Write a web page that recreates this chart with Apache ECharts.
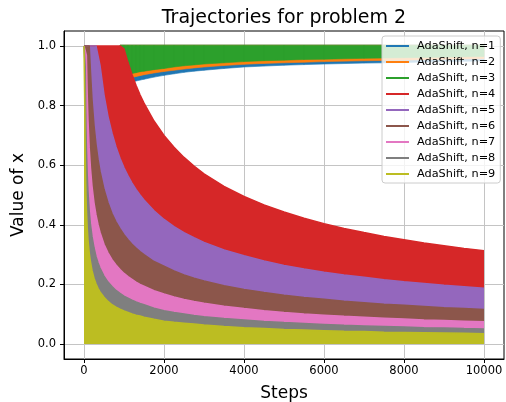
<!DOCTYPE html>
<html>
<head>
<meta charset="utf-8">
<script src="https://cdn.jsdelivr.net/npm/echarts@6/dist/echarts.min.js"></script>
<style>html,body{margin:0;padding:0;background:#fff}#c{width:506px;height:402px}</style>
</head>
<body>
<div id="c"></div>
<script>
// ---- data ----
const seriesNames = ['AdaShift, n=1','AdaShift, n=2','AdaShift, n=3','AdaShift, n=4','AdaShift, n=5','AdaShift, n=6','AdaShift, n=7','AdaShift, n=8','AdaShift, n=9'];
const xTicks = [0, 2000, 4000, 6000, 8000, 10000];
const yTicks = [0.0, 0.2, 0.4, 0.6, 0.8, 1.0];

// n=1..3 oscillate between a lower envelope and 1.0
const stepsTop = [900, 1000, 1100, 1200, 1300, 1400, 1500, 1750, 2000, 2250, 2500, 2750, 3000, 3500, 4000, 4500, 5000, 5500, 6000, 7000, 8000, 9000, 10000];
const upperTop = 1.0;
const lowN1 = [0.860, 0.865, 0.872, 0.880, 0.884, 0.887, 0.890, 0.897, 0.903, 0.908, 0.913, 0.917, 0.920, 0.926, 0.931, 0.934, 0.937, 0.939, 0.941, 0.944, 0.946, 0.949, 0.951];
const lowN2 = [0.875, 0.880, 0.888, 0.896, 0.899, 0.902, 0.905, 0.911, 0.916, 0.920, 0.924, 0.928, 0.931, 0.936, 0.940, 0.943, 0.945, 0.947, 0.949, 0.952, 0.954, 0.957, 0.959];
const lowN3 = [0.890, 0.895, 0.902, 0.909, 0.912, 0.915, 0.917, 0.922, 0.926, 0.931, 0.935, 0.938, 0.941, 0.945, 0.949, 0.952, 0.954, 0.956, 0.957, 0.960, 0.962, 0.964, 0.966];

// n=4..9 oscillate between 0 and an upper envelope
const steps = [0, 10, 20, 30, 40, 50, 60, 80, 100, 130, 160, 200, 250, 300, 350, 400, 500, 600, 700, 800, 900, 1000, 1100, 1200, 1300, 1400, 1500, 1750, 2000, 2250, 2500, 2750, 3000, 3500, 4000, 4500, 5000, 5500, 6000, 6500, 7000, 7500, 8000, 8500, 9000, 9500, 10000];
const upN4 = [1,1,1,1,1,1,1,1,1,1,1,1,1,1,1,1,1,1,1,1,1, 0.990, 0.944, 0.904, 0.868, 0.836, 0.808, 0.748, 0.700, 0.660, 0.626, 0.597, 0.571, 0.529, 0.495, 0.467, 0.443, 0.422, 0.404, 0.388, 0.374, 0.361, 0.350, 0.339, 0.330, 0.321, 0.313];
const upN5 = [1,1,1,1,1,1,1,1,1,1,1,1,1,1,1, 0.935, 0.836, 0.763, 0.707, 0.661, 0.623, 0.591, 0.564, 0.540, 0.519, 0.500, 0.483, 0.447, 0.418, 0.394, 0.374, 0.357, 0.341, 0.316, 0.296, 0.279, 0.264, 0.252, 0.241, 0.232, 0.224, 0.216, 0.209, 0.203, 0.197, 0.192, 0.187];
const upN6 = [1,1,1,1,1,1,1,1,1,1, 0.917, 0.820, 0.734, 0.670, 0.620, 0.580, 0.519, 0.474, 0.438, 0.410, 0.387, 0.367, 0.350, 0.335, 0.322, 0.310, 0.300, 0.277, 0.261, 0.245, 0.232, 0.221, 0.212, 0.196, 0.183, 0.173, 0.164, 0.156, 0.150, 0.144, 0.139, 0.134, 0.130, 0.126, 0.122, 0.119, 0.116];
const upN7 = [1,1,1,1,1,1, 0.968, 0.839, 0.750, 0.658, 0.593, 0.530, 0.474, 0.433, 0.401, 0.375, 0.335, 0.306, 0.283, 0.265, 0.250, 0.237, 0.226, 0.217, 0.208, 0.200, 0.194, 0.179, 0.168, 0.158, 0.150, 0.143, 0.137, 0.127, 0.119, 0.112, 0.106, 0.101, 0.097, 0.093, 0.090, 0.087, 0.084, 0.081, 0.079, 0.077, 0.075];
const upN8 = [1,1,1, 0.931, 0.806, 0.721, 0.658, 0.570, 0.510, 0.447, 0.403, 0.361, 0.323, 0.294, 0.273, 0.255, 0.228, 0.208, 0.193, 0.180, 0.170, 0.161, 0.154, 0.147, 0.141, 0.136, 0.132, 0.120, 0.112, 0.106, 0.101, 0.096, 0.092, 0.086, 0.081, 0.076, 0.072, 0.069, 0.066, 0.063, 0.061, 0.059, 0.057, 0.055, 0.054, 0.052, 0.051];
const upN9 = [1,1, 0.783, 0.639, 0.553, 0.495, 0.452, 0.391, 0.350, 0.307, 0.277, 0.247, 0.221, 0.202, 0.187, 0.175, 0.157, 0.143, 0.132, 0.124, 0.117, 0.111, 0.106, 0.101, 0.097, 0.094, 0.090, 0.083, 0.077, 0.073, 0.070, 0.067, 0.064, 0.059, 0.055, 0.052, 0.049, 0.047, 0.045, 0.043, 0.042, 0.040, 0.039, 0.038, 0.037, 0.036, 0.035];

const colors = ['#1f77b4','#ff7f0e','#2ca02c','#d62728','#9467bd','#8c564b','#e377c2','#7f7f7f','#bcbd22'];
const FONT = 'DejaVu Sans';

const series = [];
[lowN1, lowN2, lowN3].forEach((low, k) => {
  const c = colors[k];
  series.push({
    name: seriesNames[k], type: 'custom', itemStyle: { color: c },
    encode: { x: 0, y: [1, 2] },
    data: stepsTop.map((s, i) => [s, low[i], upperTop]),
    renderItem: function (params, api) {
      const i = params.dataIndex;
      if (i >= stepsTop.length - 1) return null;
      const a0 = api.coord([stepsTop[i], low[i]]);
      const a1 = api.coord([stepsTop[i + 1], low[i + 1]]);
      const b1 = api.coord([stepsTop[i + 1], upperTop]);
      const b0 = api.coord([stepsTop[i], upperTop]);
      b0[1] -= 0.75; b1[1] -= 0.75; a0[1] += 0.5; a1[1] += 0.5;
      return { type: 'polygon', shape: { points: [a0, a1, b1, b0] },
               style: { fill: c, stroke: c, lineWidth: 0.6 } };
    }
  });
});
[upN4, upN5, upN6, upN7, upN8, upN9].forEach((up, j) => {
  const k = j + 3;
  const c = colors[k];
  series.push({
    name: seriesNames[k], type: 'line', symbol: 'none',
    lineStyle: { color: c, width: 1.5 }, itemStyle: { color: c },
    areaStyle: { color: c, opacity: 1, origin: 'auto' },
    data: steps.map((s, i) => [s, up[i]])
  });
});

const chart = echarts.init(document.getElementById('c'), null, { renderer: 'canvas' });
chart.setOption({
  animation: false,
  backgroundColor: '#fff',
  title: {
    text: 'Trajectories for problem 2', left: 284, top: 9, textAlign: 'center', padding: 0,
    textStyle: { fontFamily: FONT, fontSize: 19, fontWeight: 'normal', color: '#000' }
  },
  grid: { left: 64, right: 2, top: 31, bottom: 43, show: true, borderColor: '#000', borderWidth: 1,
          backgroundColor: 'transparent', containLabel: false, outerBoundsMode: 'none' },
  legend: {
    orient: 'vertical', left: 382, top: 36, data: seriesNames, icon: 'rect',
    itemWidth: 23, itemHeight: 2, itemGap: 4,
    backgroundColor: 'rgba(255,255,255,0.8)', borderColor: '#cccccc', borderWidth: 1, borderRadius: 3,
    padding: [4, 5, 3, 4],
    textStyle: { fontFamily: FONT, fontSize: 11.3, color: '#000', lineHeight: 12, padding: [0, 0, 0, 3] }
  },
  xAxis: {
    type: 'value', min: -500, max: 10500,
    name: 'Steps', nameLocation: 'middle', nameGap: 26,
    nameTextStyle: { fontFamily: FONT, fontSize: 17, color: '#000' },
    axisLine: { show: true, onZero: false, lineStyle: { color: '#000', width: 1 } },
    axisTick: { show: true, length: 4, customValues: xTicks, lineStyle: { color: '#000' } },
    axisLabel: { customValues: xTicks, margin: 6, fontFamily: FONT, fontSize: 11.5, color: '#000', formatter: v => String(v) },
    splitLine: { show: true, lineStyle: { color: '#c4c4c4', width: 1 } }
  },
  yAxis: {
    type: 'value', min: -0.05, max: 1.05,
    name: 'Value of x', nameLocation: 'middle', nameGap: 34,
    nameTextStyle: { fontFamily: FONT, fontSize: 17, color: '#000' },
    axisLine: { show: true, onZero: false, lineStyle: { color: '#000', width: 1 } },
    axisTick: { show: true, length: 4, customValues: yTicks, lineStyle: { color: '#000' } },
    axisLabel: { customValues: yTicks, margin: 8, fontFamily: FONT, fontSize: 11.5, color: '#000', formatter: v => v.toFixed(1) },
    splitLine: { show: true, lineStyle: { color: '#c4c4c4', width: 1 } }
  },
  series: series
});
</script>
</body>
</html>
